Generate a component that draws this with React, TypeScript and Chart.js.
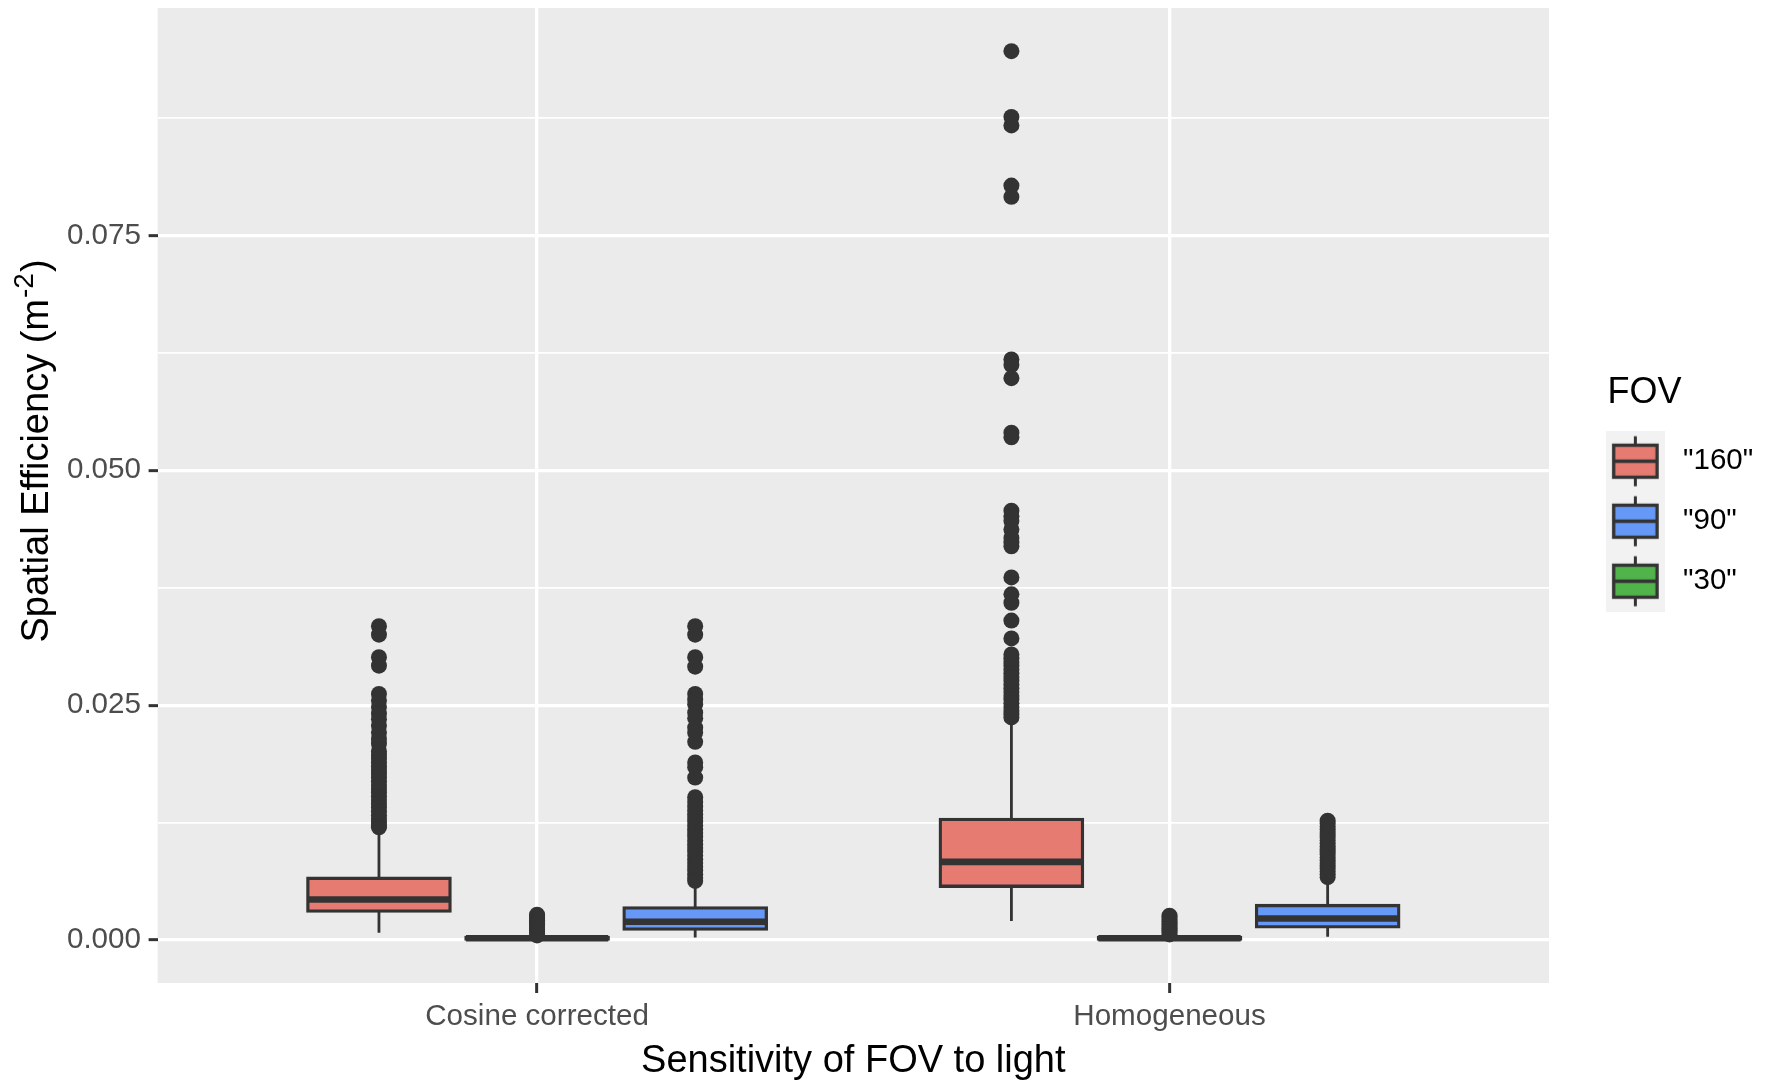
import React, { useEffect, useRef } from 'react';
import { Chart, registerables } from 'chart.js';

Chart.register(...registerables);

const FONT = '"Liberation Sans", Arial, Helvetica, sans-serif';

// ---------- data ----------
const categories = ['Cosine corrected', 'Homogeneous'];
const fovNames = ['"160"', '"90"', '"30"'];
const fovColors = ['#E67B72', '#6699F7', '#50B44B'];

// box statistics per category: [Cosine corrected, Homogeneous]
const fov160Low = [0.00078, 0.00204];
const fov160Q1 = [0.00308, 0.00573];
const fov160Median = [0.00432, 0.00832];
const fov160Q3 = [0.00658, 0.01285];
const fov160High = [0.01132, 0.02335];

const fov90Low = [0.00028, 0.00035];
const fov90Q1 = [0.00117, 0.00141];
const fov90Median = [0.00195, 0.0023];
const fov90Q3 = [0.00343, 0.00368];
const fov90High = [0.006, 0.00619];

const fov30Low = [0, 0];
const fov30Q1 = [0.0001, 0.0001];
const fov30Median = [0.0002, 0.0002];
const fov30Q3 = [0.0003, 0.0003];
const fov30High = [0.0004, 0.0004];

// outliers
const fov160OutCosine = [
  0.0334, 0.0325, 0.0301, 0.0292, 0.0262, 0.0255, 0.0248, 0.0241, 0.0235, 0.0228,
  0.0221, 0.0214, 0.0209, 0.0201, 0.0197, 0.0193, 0.0189, 0.0185, 0.0181, 0.0177,
  0.0173, 0.0169, 0.0165, 0.0161, 0.0157, 0.0153, 0.0149, 0.0145, 0.0141, 0.0137,
  0.0133, 0.0129, 0.0125, 0.0122, 0.012,
];
const fov160OutHomog = [
  0.0946, 0.0876, 0.0867, 0.0803, 0.0791, 0.0618, 0.0612, 0.0598, 0.054, 0.0535,
  0.0457, 0.0451, 0.0446, 0.0437, 0.0428, 0.0423, 0.0419, 0.0386, 0.0368, 0.0359,
  0.034, 0.0321, 0.0304, 0.03, 0.0296, 0.0292, 0.0288, 0.0284, 0.028, 0.0276,
  0.0272, 0.0268, 0.0264, 0.026, 0.0256, 0.0252, 0.0248, 0.0244, 0.024, 0.0237,
];
const fov90OutCosine = [
  0.0334, 0.0325, 0.0301, 0.0291, 0.0262, 0.0256, 0.0251, 0.0242, 0.0236, 0.0226,
  0.0221, 0.0211, 0.0189, 0.0184, 0.0173, 0.0152, 0.0147, 0.0142, 0.0138, 0.0134,
  0.013, 0.0126, 0.0122, 0.0118, 0.0114, 0.011, 0.0106, 0.0102, 0.0098, 0.0094,
  0.009, 0.0086, 0.0082, 0.0078, 0.0074, 0.007, 0.0066, 0.0063,
];
const fov90OutHomog = [
  0.0127, 0.0124, 0.0121, 0.0118, 0.0115, 0.0112, 0.0109, 0.0106, 0.0103, 0.01,
  0.0097, 0.0094, 0.0091, 0.0088, 0.0085, 0.0082, 0.0079, 0.0076, 0.0073, 0.007, 0.0067,
];
const fov30OutCosine = [0.0027, 0.0025, 0.0023, 0.0021, 0.0019, 0.0017, 0.0015, 0.0013, 0.0011, 0.0009, 0.0007, 0.0005];
const fov30OutHomog = [0.0026, 0.0024, 0.0022, 0.002, 0.0018, 0.0016, 0.0014, 0.0012, 0.001, 0.0008, 0.0006];

const yMajorTicks = [0, 0.025, 0.05, 0.075];
const yMinorTicks = [0.0125, 0.0375, 0.0625, 0.0875];
const yMin = -0.004565;
const yMax = 0.099193;

const xTitle = 'Sensitivity of FOV to light';
const yTitleMain = 'Spatial Efficiency (m';
const yTitleSup = '-2';
const yTitleEnd = ')';
const legendTitle = 'FOV';

// ---------- helpers ----------
const DARK = '#333333';

function makeKey(fill: string) {
  const c = document.createElement('canvas');
  c.width = 82;
  c.height = 61;
  const g = c.getContext('2d') as CanvasRenderingContext2D;
  g.fillStyle = '#F2F2F2';
  g.fillRect(23, 0, 59, 61);
  const cx = 52.5;
  const cy = 30.5;
  g.strokeStyle = DARK;
  g.lineWidth = 3;
  g.beginPath();
  g.moveTo(cx, cy - 25);
  g.lineTo(cx, cy - 16);
  g.moveTo(cx, cy + 16);
  g.lineTo(cx, cy + 25);
  g.stroke();
  g.fillStyle = fill;
  g.fillRect(cx - 21.7, cy - 16, 43.4, 32);
  g.lineWidth = 3.3;
  g.strokeRect(cx - 21.7, cy - 16, 43.4, 32);
  g.beginPath();
  g.moveTo(cx - 21.7, cy);
  g.lineTo(cx + 21.7, cy);
  g.stroke();
  return c;
}

const panelBg = {
  id: 'panelBg',
  beforeDraw(chart: any) {
    const { ctx, chartArea } = chart;
    ctx.save();
    ctx.fillStyle = '#EBEBEB';
    ctx.fillRect(chartArea.left, chartArea.top, chartArea.right - chartArea.left, chartArea.bottom - chartArea.top);
    ctx.restore();
  },
};

// let the legend labels draw past the (narrowed) legend box so nothing is clipped
const legendClipFix = {
  id: 'legendClipFix',
  afterLayout(chart: any) {
    if (chart.legend) chart.legend.right = chart.width;
  },
};

const yTitlePlugin = {
  id: 'yTitle',
  afterDraw(chart: any) {
    const ctx = chart.ctx;
    ctx.save();
    ctx.translate(47.8, 451);
    ctx.rotate(-Math.PI / 2);
    ctx.fillStyle = '#000000';
    ctx.textBaseline = 'alphabetic';
    ctx.textAlign = 'left';
    const big = `38px ${FONT}`;
    const small = `28px ${FONT}`;
    ctx.font = big;
    const w1 = ctx.measureText(yTitleMain).width;
    const w3 = ctx.measureText(yTitleEnd).width;
    ctx.font = small;
    const w2 = ctx.measureText(yTitleSup).width;
    const x0 = -(w1 + w2 + w3 + 2) / 2;
    ctx.font = big;
    ctx.fillText(yTitleMain, x0, 0);
    ctx.font = small;
    ctx.fillText(yTitleSup, x0 + w1 + 1, -15);
    ctx.font = big;
    ctx.fillText(yTitleEnd, x0 + w1 + w2 + 2, 0);
    ctx.restore();
  },
};

export default function App() {
  const canvasRef = useRef<HTMLCanvasElement | null>(null);

  useEffect(() => {
    document.body.style.margin = '0';
    document.body.style.overflow = 'hidden';
    const canvas = canvasRef.current;
    if (!canvas) return;

    const series = [
      { color: fovColors[0], low: fov160Low, q1: fov160Q1, med: fov160Median, q3: fov160Q3, high: fov160High, out: [fov160OutCosine, fov160OutHomog], dodge: -0.25 },
      { color: fovColors[2], low: fov30Low, q1: fov30Q1, med: fov30Median, q3: fov30Q3, high: fov30High, out: [fov30OutCosine, fov30OutHomog], dodge: 0 },
      { color: fovColors[1], low: fov90Low, q1: fov90Q1, med: fov90Median, q3: fov90Q3, high: fov90High, out: [fov90OutCosine, fov90OutHomog], dodge: 0.25 },
    ];
    const halfBox = 0.1125;

    const datasets: any[] = [];
    series.forEach((s) => {
      datasets.push({
        type: 'bar',
        data: categories.map((_, ci) => ({ x: ci + 1 + s.dodge, y: [s.q1[ci], s.q3[ci]] })),
        backgroundColor: s.color,
        borderColor: DARK,
        borderWidth: 3.3,
        borderSkipped: false,
        inflateAmount: 1.65,
        grouped: false,
        categoryPercentage: 1,
        barPercentage: 0.9,
        order: 2,
      });
      categories.forEach((_, ci) => {
        const x = ci + 1 + s.dodge;
        datasets.push({
          type: 'line',
          data: [{ x, y: s.low[ci] }, { x, y: s.q1[ci] }],
          borderColor: DARK, borderWidth: 2.8, pointRadius: 0, fill: false, order: 3,
        });
        datasets.push({
          type: 'line',
          data: [{ x, y: s.q3[ci] }, { x, y: s.high[ci] }],
          borderColor: DARK, borderWidth: 2.8, pointRadius: 0, fill: false, order: 3,
        });
        datasets.push({
          type: 'line',
          data: [{ x: x - halfBox, y: s.med[ci] }, { x: x + halfBox, y: s.med[ci] }],
          borderColor: DARK, borderWidth: 6.6, borderCapStyle: 'butt', pointRadius: 0, fill: false, order: 1,
        });
      });
      const pts: any[] = [];
      categories.forEach((_, ci) => {
        s.out[ci].forEach((v) => pts.push({ x: ci + 1 + s.dodge, y: v }));
      });
      datasets.push({
        type: 'line',
        showLine: false,
        data: pts,
        pointRadius: 8,
        pointHoverRadius: 8,
        pointBackgroundColor: DARK,
        pointBorderWidth: 0,
        borderColor: DARK,
        order: 0,
      });
    });

    const keyImages = fovColors.map((c) => makeKey(c));
    const allYTicks = [...yMajorTicks, ...yMinorTicks].sort((a, b) => a - b);
    const isMajor = (v: number) => yMajorTicks.includes(v);

    const chart = new Chart(canvas, {
      type: 'bar',
      data: { datasets },
      options: {
        animation: false,
        responsive: false,
        devicePixelRatio: 1,
        events: [],
        layout: { padding: { left: 0, top: 5.6, right: 25, bottom: 0 } },
        plugins: {
          tooltip: { enabled: false },
          legend: {
            display: true,
            position: 'right',
            align: 'center',
            fullSize: false,
            maxWidth: 191,
            title: {
              display: true,
              text: legendTitle,
              color: '#000000',
              position: 'center',
              font: { family: FONT, size: 36, lineHeight: 1.1 },
              padding: { top: 10.35, bottom: 1.45 },
            },
            labels: {
              usePointStyle: true,
              pointStyleWidth: 88.75,
              boxHeight: 29.5,
              padding: 30.5,
              color: '#000000',
              font: { family: FONT, size: 29.5 },
              generateLabels: () =>
                fovNames.map((name, i) => ({
                  text: name,
                  pointStyle: keyImages[i],
                  fillStyle: 'rgba(0,0,0,0)',
                  strokeStyle: 'rgba(0,0,0,0)',
                  lineWidth: 0,
                  hidden: false,
                  datasetIndex: i,
                  fontColor: '#000000',
                })),
            },
          },
        },
        scales: {
          x: {
            type: 'linear',
            min: 0.4,
            max: 2.6,
            offset: false,
            afterBuildTicks: (s: any) => {
              s.ticks = categories.map((_, i) => ({ value: i + 1 }));
            },
            afterFit: (s: any) => {
              s.height = 100;
              s.paddingLeft = 0;
              s.paddingRight = 0;
            },
            ticks: {
              autoSkip: false,
              maxRotation: 0,
              minRotation: 0,
              padding: 6,
              color: '#4D4D4D',
              font: { family: FONT, size: 29.6 },
              callback: (v: any) => categories[Math.round(Number(v)) - 1] ?? '',
            },
            grid: {
              offset: false,
              color: '#FFFFFF',
              lineWidth: 3.3,
              drawTicks: true,
              tickLength: 10,
              tickColor: DARK,
              tickWidth: 3,
            },
            border: { display: false },
            title: {
              display: true,
              text: xTitle,
              color: '#000000',
              font: { family: FONT, size: 38, lineHeight: 1.0 },
              padding: { top: 0, bottom: 2.55 },
            },
          },
          y: {
            type: 'linear',
            min: yMin,
            max: yMax,
            afterBuildTicks: (s: any) => {
              s.ticks = allYTicks.map((v) => ({ value: v }));
            },
            afterFit: (s: any) => {
              s.width = 157.6;
              s.paddingTop = 0;
              s.paddingBottom = 0;
            },
            ticks: {
              autoSkip: false,
              padding: 7.6,
              color: '#4D4D4D',
              font: { family: FONT, size: 29.6 },
              callback: (v: any) => (isMajor(Number(v)) ? Number(v).toFixed(3) : ''),
            },
            grid: {
              color: '#FFFFFF',
              lineWidth: (c: any) => (c.tick && isMajor(c.tick.value) ? 3.3 : 1.8),
              drawTicks: true,
              tickLength: 9,
              tickColor: (c: any) => (c.tick && isMajor(c.tick.value) ? DARK : 'rgba(0,0,0,0)'),
              tickWidth: 3,
            },
            border: { display: false },
            title: { display: false },
          },
        },
      } as any,
      plugins: [panelBg, legendClipFix, yTitlePlugin],
    } as any);

    return () => {
      chart.destroy();
    };
  }, []);

  return (
    <div style={{ width: 1765, height: 1083, background: '#FFFFFF' }}>
      <canvas ref={canvasRef} width={1765} height={1083} style={{ display: 'block', width: 1765, height: 1083 }} />
    </div>
  );
}
